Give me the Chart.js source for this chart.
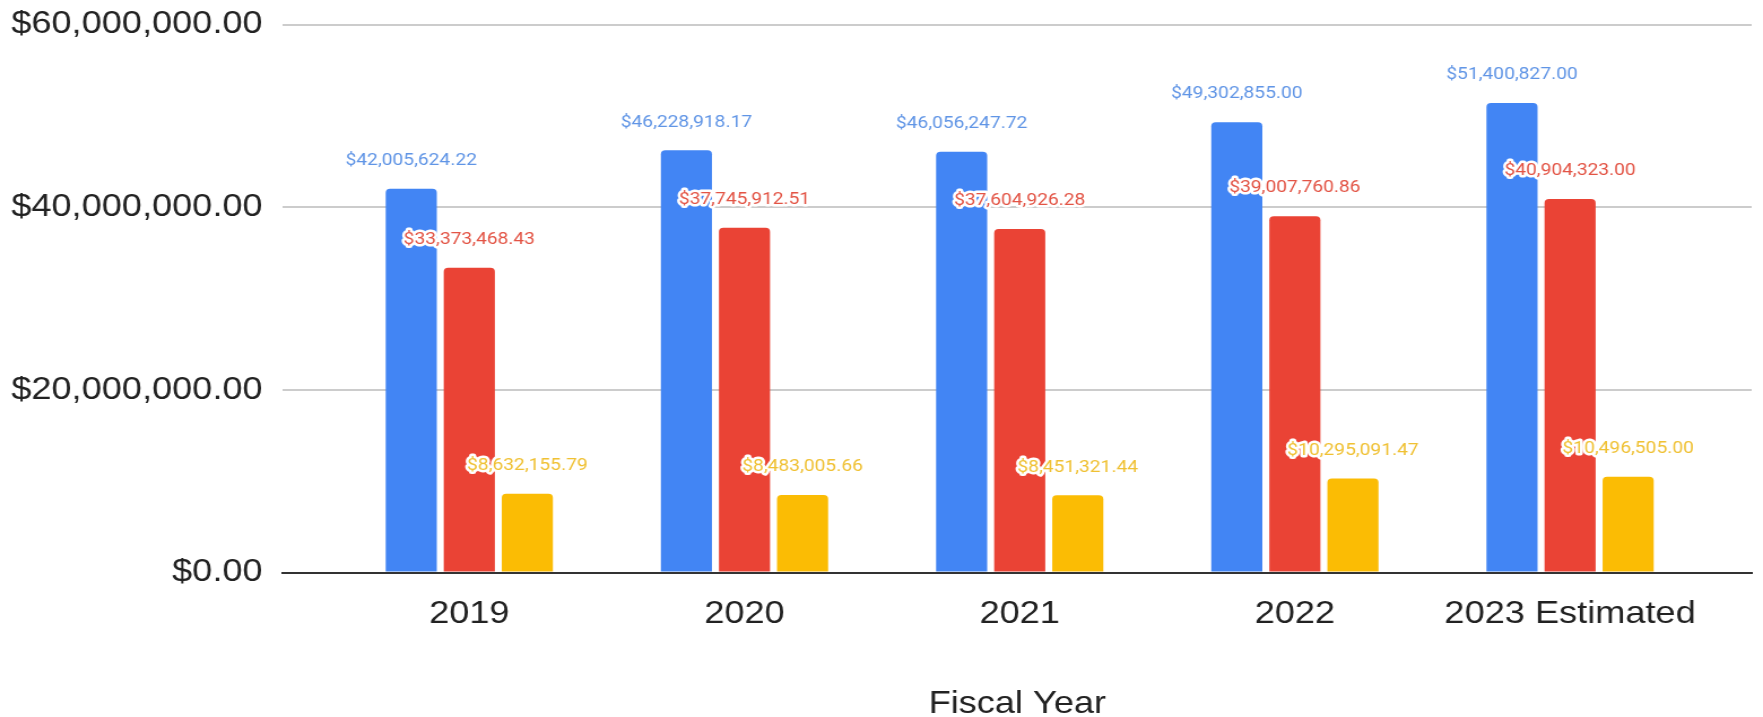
<!DOCTYPE html>
<html>
<head>
<meta charset="utf-8">
<script src="https://cdn.jsdelivr.net/npm/chart.js@4.4.1/dist/chart.umd.min.js"></script>
<style>
  html, body { margin: 0; padding: 0; background: #ffffff; overflow: hidden; }
  #wrap { width: 1560px; height: 717px; transform: scaleX(1.13013); transform-origin: 0 0; }
  canvas { display: block; }
</style>
</head>
<body>
<div id="wrap"><canvas id="c" width="1560" height="717"></canvas></div>
<script>
const categories = ["2019", "2020", "2021", "2022", "2023 Estimated"];
const seriesBlue = [42005624.22, 46228918.17, 46056247.72, 49302855.00, 51400827.00];
const seriesRed = [33373468.43, 37745912.51, 37604926.28, 39007760.86, 40904323.00];
const seriesYellow = [8632155.79, 8483005.66, 8451321.44, 10295091.47, 10496505.00];
const yTicks = [0, 20000000, 40000000, 60000000];
const xTitle = "Fiscal Year";

const money = v => "$" + v.toLocaleString("en-US", {minimumFractionDigits: 2, maximumFractionDigits: 2});
const toPoints = arr => arr.map((v, i) => ({x: i, y: v}));

const labelPlugin = {
  id: "barLabels",
  afterDatasetsDraw(chart) {
    const ctx = chart.ctx;
    ctx.save();
    ctx.font = "17px Roboto";
    ctx.textAlign = "center";
    ctx.textBaseline = "middle";
    ctx.lineJoin = "round";
    chart.data.datasets.forEach((ds, di) => {
      const meta = chart.getDatasetMeta(di);
      meta.data.forEach((bar, i) => {
        const txt = money(ds.data[i].y);
        const y = bar.y - 28;
        ctx.strokeStyle = "#ffffff";
        ctx.lineWidth = 5;
        ctx.strokeText(txt, bar.x, y);
        ctx.fillStyle = ds.labelColor;
        ctx.fillText(txt, bar.x, y);
      });
    });
    ctx.restore();
  }
};

const barCommon = {
  categoryPercentage: 0.633,
  barPercentage: 0.88,
  borderRadius: {topLeft: 4, topRight: 4, bottomLeft: 0, bottomRight: 0},
  borderSkipped: "bottom"
};

new Chart(document.getElementById("c"), {
  type: "bar",
  data: {
    datasets: [
      Object.assign({label: "A", data: toPoints(seriesBlue), backgroundColor: "#4285F4", labelColor: "#6095e6"}, barCommon),
      Object.assign({label: "B", data: toPoints(seriesRed), backgroundColor: "#EA4335", labelColor: "#e35445"}, barCommon),
      Object.assign({label: "C", data: toPoints(seriesYellow), backgroundColor: "#FBBC04", labelColor: "#f0c133"}, barCommon)
    ]
  },
  options: {
    responsive: false,
    animation: false,
    devicePixelRatio: 1,
    layout: {padding: {left: 0, right: 10, top: 24.5, bottom: 0}},
    plugins: {legend: {display: false}, tooltip: {enabled: false}},
    scales: {
      x: {
        type: "linear",
        offset: false,
        min: -0.677,
        max: 4.66,
        grid: {display: false, drawTicks: false, offset: false},
        border: {display: true, color: "#333333", width: 2},
        afterBuildTicks: scale => { scale.ticks = categories.map((c, i) => ({value: i})); },
        afterFit: scale => { scale.height = 144.5; scale.paddingLeft = 0; scale.paddingRight = 0; },
        ticks: {
          autoSkip: false,
          maxRotation: 0,
          padding: 22,
          color: "#222222",
          font: {family: "'Liberation Sans', Arial, sans-serif", size: 32},
          callback: v => categories[v]
        },
        title: {
          display: true,
          text: xTitle,
          color: "#222222",
          padding: {top: 0, bottom: 0},
          font: {family: "'Liberation Sans', Arial, sans-serif", size: 32, lineHeight: 0.8125}
        }
      },
      y: {
        min: 0,
        max: 60000000,
        grid: {
          drawTicks: false,
          lineWidth: 2,
          color: ctx => (ctx.tick && ctx.tick.value === 0) ? "rgba(0,0,0,0)" : "#cccccc"
        },
        border: {display: false},
        afterBuildTicks: scale => { scale.ticks = yTicks.map(v => ({value: v})); },
        afterFit: scale => { scale.width = 250.4; scale.paddingTop = 0; scale.paddingBottom = 0; },
        ticks: {
          padding: 18,
          color: "#222222",
          font: {family: "'Liberation Sans', Arial, sans-serif", size: 32},
          callback: v => money(v)
        }
      }
    }
  },
  plugins: [labelPlugin]
});
</script>
</body>
</html>
